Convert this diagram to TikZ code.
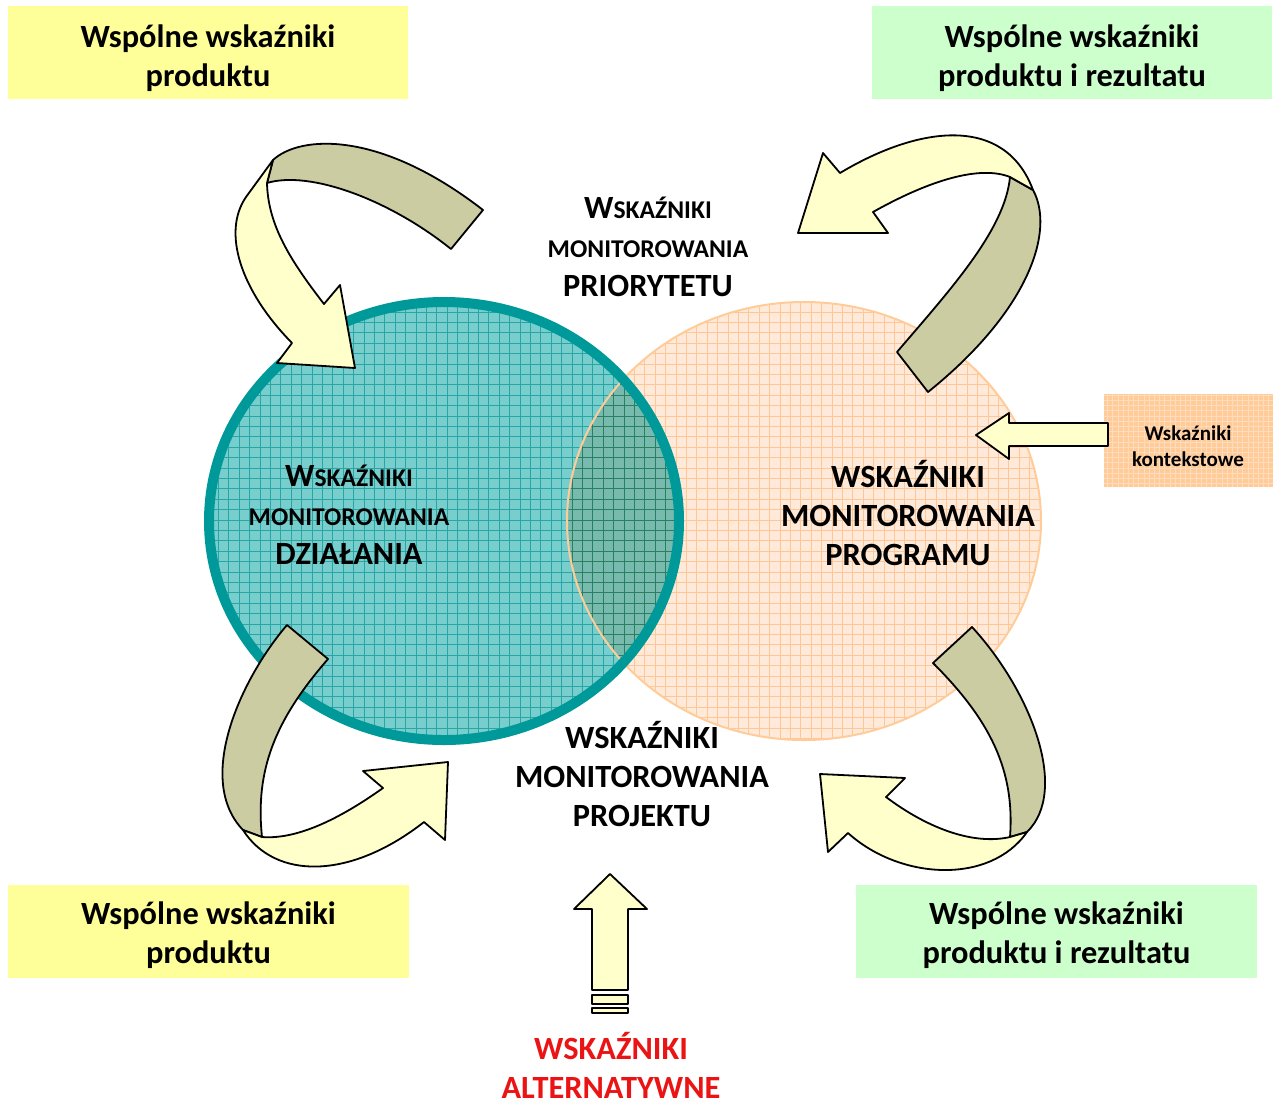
\documentclass[tikz,border=0pt]{standalone}
\usepackage{fontspec}
\setmainfont{Carlito}
\usetikzlibrary{positioning}
\definecolor{tealB}{RGB}{0,153,153}
\definecolor{tealF}{RGB}{120,205,205}
\definecolor{tealG}{RGB}{40,165,165}
\definecolor{peachF}{RGB}{255,227,205}
\definecolor{peachG}{RGB}{255,204,153}
\definecolor{khakiF}{RGB}{204,204,163}
\definecolor{lemonF}{RGB}{255,255,204}
\definecolor{boxY}{RGB}{255,255,153}
\definecolor{boxG}{RGB}{204,255,204}
\definecolor{redT}{RGB}{235,20,20}
\newcommand\bigcaps{\fontsize{32.4}{39}\selectfont}
\newcommand\midcaps{\fontsize{25.6}{39}\selectfont}
\begin{document}
\begin{tikzpicture}[x=1pt, y=-1pt, line join=round, line cap=round, font=\bfseries\bigcaps,
    box/.style={minimum width=400, minimum height=93, inner sep=0pt},
    lbl/.style={align=center, inner sep=0pt},
    band/.style={draw=black, line width=1.8, fill=khakiF},
    ribbon/.style={draw=black, line width=1.8, fill=lemonF}]
    \useasboundingbox (0,0) rectangle (1279,1104);
    % circles
    \begin{scope}
        \clip (444,521) ellipse [x radius=235, y radius=219];
        \fill[tealF] (200,290) rectangle (690,750);
        \draw[tealG, line width=0.8, step=10.4pt] (200,290) grid (690,750);
    \end{scope}
    \begin{scope}[blend mode=multiply, opacity=0.75]
        \clip (804,521) ellipse [x radius=237, y radius=219];
        \fill[peachF] (560,295) rectangle (1050,745);
        \draw[peachG, line width=0.8, step=10.4pt] (560,295) grid (1050,745);
    \end{scope}
    \draw[peachG, line width=2] (804,521) ellipse [x radius=237, y radius=219];
    \draw[tealB, line width=10] (444,521) ellipse [x radius=235, y radius=219];
    % boxes
    \node[box, fill=boxY] (tl) at (208,52.5) {};
    \node[box, fill=boxG] (tr) at (1072,52.5) {};
    \node[box, fill=boxY, minimum width=401] (bl) at (208.5,931) {};
    \node[box, fill=boxG, minimum width=401] (br) at (1056.5,931) {};
    \node[lbl] (tl-t) at ([yshift=-6]tl.center) {Wspólne wskaźniki\\produktu};
    \node[lbl] (tr-t) at ([yshift=-6]tr.center) {Wspólne wskaźniki\\produktu i rezultatu};
    \node[lbl] (bl-t) at ([yshift=-4]bl.center) {Wspólne wskaźniki\\produktu};
    \node[lbl] (br-t) at ([yshift=-4]br.center) {Wspólne wskaźniki\\produktu i rezultatu};
    \begin{scope}
        \clip (1104,394) rectangle (1273,487);
        \fill[peachG] (1104,394) rectangle (1273,487);
        \draw[white, opacity=0.35, line width=0.8, step=5.2pt] (1100,390) grid (1280,490);
    \end{scope}
    \node[lbl, font=\bfseries\fontsize{21}{26}\selectfont] (ctx) at (1188,446) {Wskaźniki\\kontekstowe};
    % curved arrows
    \draw[band] (273,160) .. controls (300,135) and (380,130) .. (483,210) -- (451,249)
        .. controls (390,200) and (310,170) .. (267,183) -- cycle;
    \draw[ribbon] (273,160) -- (246,197) .. controls (222,232) and (240,290) .. (292,343)
        -- (277,363) -- (355,368) -- (340,285) -- (324,304)
        .. controls (290,260) and (268,225) .. (267,183) -- cycle;
    \draw[band] (897,352) .. controls (950,290) and (1005,230) .. (1010,177) -- (1033,190)
        .. controls (1055,230) and (1030,310) .. (928,392) -- cycle;
    \draw[ribbon] (1033,190) .. controls (1005,115) and (920,125) .. (840,173)
        -- (823,153) -- (798,233) -- (888,233) -- (873,212)
        .. controls (930,180) and (980,165) .. (1010,177) -- cycle;
    \draw[band] (287,625) .. controls (240,680) and (195,780) .. (243,830) -- (262,837)
        .. controls (255,770) and (275,720) .. (328,659) -- cycle;
    \draw[ribbon] (243,830) .. controls (275,880) and (350,880) .. (424,822)
        -- (445,840) -- (448,762) -- (363,771) -- (383,788)
        .. controls (345,815) and (300,840) .. (262,837) -- cycle;
    \draw[band] (972,627) .. controls (1030,690) and (1070,790) .. (1027,832) -- (1010,837)
        .. controls (1015,770) and (990,720) .. (933,663) -- cycle;
    \draw[ribbon] (1027,832) .. controls (990,885) and (900,880) .. (848,833)
        -- (828,852) -- (820,774) -- (905,778) -- (886,797)
        .. controls (930,830) and (975,845) .. (1010,837) -- cycle;
    % straight arrows
    \draw[ribbon] (976,435) -- (1009,413) -- (1009,423) -- (1108,423) -- (1108,446)
        -- (1009,446) -- (1009,459) -- cycle;
    \draw[ribbon] (610,874) -- (647,909) -- (628,909) -- (628,990) -- (592,990) -- (592,909)
        -- (574,909) -- cycle;
    \draw[ribbon] (592,995) rectangle (628,1004);
    \draw[ribbon] (592,1008) rectangle (628,1013);
    % labels
    \node[lbl] (prio) at (648,247) {W\midcaps SKAŹNIKI\\\midcaps MONITOROWANIA\\PRIORYTETU};
    \node[lbl] (dzial) at (349,515) {W\midcaps SKAŹNIKI\\\midcaps MONITOROWANIA\\DZIAŁANIA};
    \node[lbl] (prog) at (908,513) {WSKAŹNIKI\\MONITOROWANIA\\PROGRAMU};
    \node[lbl] (proj) at (642,774) {WSKAŹNIKI\\MONITOROWANIA\\PROJEKTU};
    \node[lbl, text=redT] (alt) at (611,1065) {WSKAŹNIKI\\ALTERNATYWNE};
\end{tikzpicture}
\end{document}
